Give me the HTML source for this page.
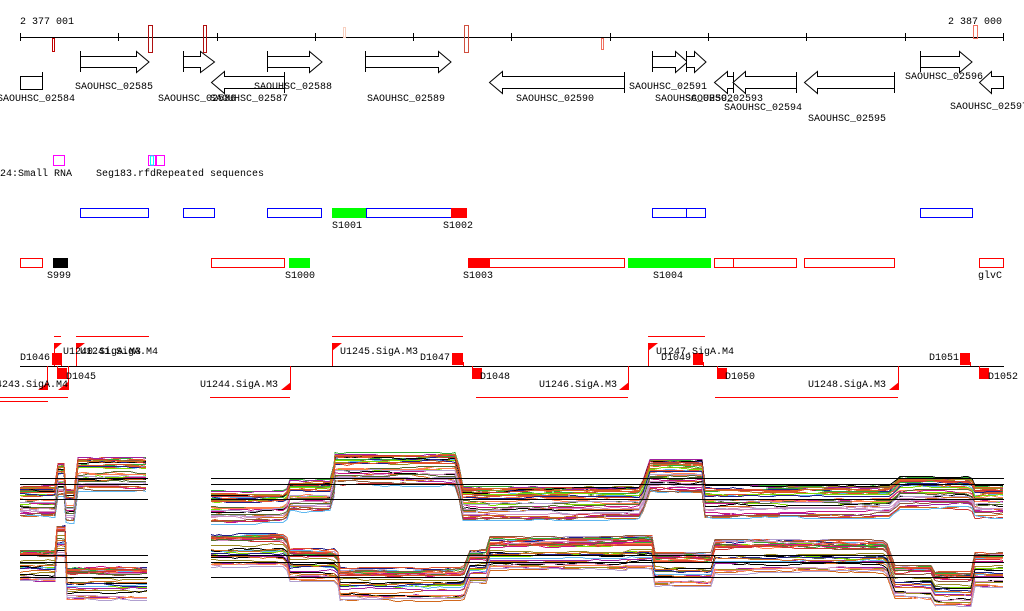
<!DOCTYPE html>
<html><head><meta charset="utf-8"><style>
html,body{margin:0;padding:0;background:#fff;}
svg{display:block;}
text{font-family:"Liberation Mono","DejaVu Sans Mono",monospace;font-size:10px;fill:#000;}
</style></head><body>
<svg id="s" width="1024" height="611" viewBox="0 0 1024 611" xmlns="http://www.w3.org/2000/svg" shape-rendering="crispEdges">
<g fill="none" stroke="#000">
<line x1="20" y1="37.5" x2="1004" y2="37.5"/>
<path d="M20.5 33v8M118.5 33v8M217.5 33v8M315.5 33v8M413.5 33v8M511.5 33v8M610.5 33v8M708.5 33v8M806.5 33v8M905.5 33v8M1003.5 33v8"/>
</g>
<text x="20" y="24">2 377 001</text>
<text x="948" y="24">2 387 000</text>
<g fill="none">
<rect x="52.5" y="38.5" width="2" height="13" stroke="#c00000"/>
<rect x="148.5" y="25.5" width="4" height="27" stroke="#b01010"/>
<rect x="203.5" y="25.5" width="3" height="27" stroke="#b01010"/>
<rect x="343.5" y="27.5" width="2" height="10" stroke="#f8d0c0"/>
<rect x="464.5" y="25.5" width="4" height="27" stroke="#d05040"/>
<rect x="601.5" y="38.5" width="2" height="11" stroke="#f07060"/>
<rect x="973.5" y="25.5" width="4" height="13" stroke="#f07060"/>
</g>
<g fill="#fff" stroke="#000" shape-rendering="auto">
<rect x="20.5" y="76.5" width="22" height="13"/>
<path d="M42.5 72v18"/>
<path d="M80.5 51v21M80.5 56.5h56v-5l12.5 10.5-12.5 10.5v-5h-56"/>
<path d="M183.5 51v21M183.5 56.5h17v-5l14 10.5-14 10.5v-5h-17"/>
<path d="M284.5 72v21M284.5 76.5h-60v-5l-13 11 13 11v-5h60"/>
<path d="M267.5 51v21M267.5 56.5h42v-5l12.5 10.5-12.5 10.5v-5h-42"/>
<path d="M365.5 51v21M365.5 56.5h73v-5l12.5 10.5-12.5 10.5v-5h-73"/>
<path d="M624.5 72v21M624.5 76.5h-122v-5l-13 11 13 11v-5h122"/>
<path d="M652.5 51v21M652.5 56.5h23v-5l12 10.5-12 10.5v-5h-23"/>
<path d="M686.5 51v21M686.5 56.5h8v-5l11.5 10.5-11.5 10.5v-5h-8"/>
<path d="M733.5 72v21M733.5 76.5h-6v-5l-13 11 13 11v-5h6"/>
<path d="M796.5 72v21M796.5 76.5h-51v-5l-12.5 11 12.5 11v-5h51"/>
<path d="M894.5 72v21M894.5 76.5h-77v-5l-13 11 13 11v-5h77"/>
<path d="M920.5 51v21M920.5 56.5h39v-5l12.5 10.5-12.5 10.5v-5h-39"/>
<path d="M1003.5 76.5h-12v-5l-12 11 12 11v-5h12z"/>
</g>
<text x="-3" y="101">SAOUHSC_02584</text>
<text x="75" y="89">SAOUHSC_02585</text>
<text x="158" y="101">SAOUHSC_02586</text>
<text x="210" y="101">SAOUHSC_02587</text>
<text x="254" y="89">SAOUHSC_02588</text>
<text x="367" y="101">SAOUHSC_02589</text>
<text x="516" y="101">SAOUHSC_02590</text>
<text x="629" y="89">SAOUHSC_02591</text>
<text x="655" y="101">SAOUHSC_02592</text>
<text x="685" y="101">SAOUHSC_02593</text>
<text x="724" y="110">SAOUHSC_02594</text>
<text x="808" y="121">SAOUHSC_02595</text>
<text x="905" y="79">SAOUHSC_02596</text>
<text x="950" y="109">SAOUHSC_02597</text>
<g fill="none">
<rect x="53.5" y="155.5" width="11" height="10" stroke="#f0f"/>
<rect x="148.5" y="155.5" width="16" height="10" stroke="#f0f"/>
<rect x="150.5" y="156" width="3" height="9" stroke="#0ff"/>
<rect x="155" y="156" width="2" height="9" fill="#f0f" stroke="none"/>
</g>
<text x="0" y="176">24:Small RNA</text>
<text x="96" y="176">Seg183.rfdRepeated sequences</text>
<g stroke="#00f" fill="none">
<rect x="80.5" y="208.5" width="68" height="9"/>
<rect x="183.5" y="208.5" width="31" height="9"/>
<rect x="267.5" y="208.5" width="54" height="9"/>
<rect x="366.5" y="208.5" width="85" height="9"/>
<rect x="652.5" y="208.5" width="53" height="9"/>
<line x1="686.5" y1="208" x2="686.5" y2="218"/>
<rect x="920.5" y="208.5" width="52" height="9"/>
</g>
<rect x="332" y="208" width="34" height="10" fill="#0f0"/>
<rect x="451" y="208" width="16" height="10" fill="#f00"/>
<text x="332" y="228">S1001</text><text x="443" y="228">S1002</text>
<g stroke="#f00" fill="none">
<rect x="20.5" y="258.5" width="22" height="9"/>
<rect x="211.5" y="258.5" width="73" height="9"/>
<rect x="489.5" y="258.5" width="135" height="9"/>
<rect x="714.5" y="258.5" width="82" height="9"/>
<line x1="733.5" y1="258" x2="733.5" y2="268"/>
<rect x="804.5" y="258.5" width="90" height="9"/>
<rect x="979.5" y="258.5" width="24" height="9"/>
</g>
<rect x="53" y="258" width="15" height="10" fill="#000"/>
<rect x="289" y="258" width="21" height="10" fill="#0f0"/>
<rect x="468" y="258" width="21" height="10" fill="#f00"/>
<rect x="628" y="258" width="83" height="10" fill="#0f0"/>
<text x="47" y="278">S999</text><text x="285" y="278">S1000</text><text x="463" y="278">S1003</text><text x="653" y="278">S1004</text><text x="978" y="278">glvC</text>
<line x1="20" y1="366.5" x2="1004" y2="366.5" stroke="#000"/>
<g stroke="#f00" fill="none">
<path d="M54 336.5h7M76 336.5h73M332 336.5h131M648 336.5h57M0 397.5h68M210 397.5h80M476 397.5h152M715 397.5h183M0 401.5h48"/>
<path d="M54.5 366v-23M76.5 366v-23M332.5 366v-23M648.5 366v-23M290.5 366v24M628.5 366v24M898.5 366v24M47.5 366v24M68.5 366v24"/>
<path d="M61.5 366v-4M463.5 366v-4M703.5 366v-4M970.5 366v-4M57.5 366v4M472.5 366v4M717.5 366v4M979.5 366v4"/>
</g>
<g fill="#f00" shape-rendering="auto">
<path d="M54 343h8l-8 7z"/><path d="M76 343h9l-9 7z"/><path d="M332 343h10l-10 8z"/><path d="M648 343h10l-10 8z"/>
<path d="M291 390h-10l10-8z"/><path d="M629 390h-10l10-8z"/><path d="M899 390h-10l10-8z"/><path d="M48 390h-10l10-8z"/><path d="M68 390h-10l10-8z"/>
</g>
<g fill="#f00">
<rect x="52" y="353" width="10" height="12"/><rect x="452" y="353" width="11" height="12"/><rect x="693" y="353" width="10" height="12"/><rect x="960" y="353" width="10" height="12"/>
<rect x="57" y="368" width="10" height="11"/><rect x="472" y="368" width="10" height="11"/><rect x="717" y="368" width="10" height="11"/><rect x="979" y="368" width="10" height="11"/>
</g>
<text x="63" y="354">U1240.SigA.M3</text><text x="80" y="354">U1241.SigA.M4</text>
<text x="340" y="354">U1245.SigA.M3</text><text x="656" y="354">U1247.SigA.M4</text>
<text x="20" y="360">D1046</text><text x="420" y="360">D1047</text><text x="661" y="360">D1049</text><text x="929" y="360">D1051</text>
<text x="66" y="379">D1045</text><text x="480" y="379">D1048</text><text x="725" y="379">D1050</text><text x="988" y="379">D1052</text>
<text x="200" y="387">U1244.SigA.M3</text><text x="539" y="387">U1246.SigA.M3</text><text x="808" y="387">U1248.SigA.M3</text>
<text x="-4" y="387">4243.SigA.M4</text>
<g id="plots" shape-rendering="crispEdges"></g>
<g stroke="#000" fill="none">
<path d="M20 478.5h128M211 478.5h793M20 484.5h128M211 484.5h793M20 499.5h128M211 499.5h793"/>
<path d="M20 555.5h128M211 555.5h793M20 562.5h128M211 562.5h793M20 577.5h128M211 577.5h793"/>
</g>
</svg>
<script>
(function(){
var seed=11;function r(){seed=(seed*16807)%2147483647;return seed/2147483647;}
var cols=["#e0502a","#d2691e","#33aa33","#7fdc00","#a020a0","#c71585","#9a8a20","#60b8f0","#8b5a3c","#000","#d090c0","#ff7f50","#556b2f","#b0a0d0","#20208a","#cc3333"];
var top=[[20,497],[55,497],[58,476],[64,476],[66,502],[78,470],[148,470],null,[211,503],[290,492],[335,465],[463,499],[650,472],[705,497],[900,488],[975,497],[1004,497]];
var bot=[[20,560],[55,560],[57,535],[65,535],[67,578],[148,578],null,[211,545],[290,560],[340,579],[470,562],[490,549],[628,548],[655,565],[715,552],[895,577],[935,584],[975,565],[1004,565]];
var g=document.getElementById('plots'),ns="http://www.w3.org/2000/svg";
function draw(prof){
 for(var k=0;k<34;k++){
  var u=r(); var off=-10+Math.pow(u,1.6)*30;
  var d="",started=false, w=0;
  for(var i=0;i<prof.length-1;i++){
   var a=prof[i],b=prof[i+1];
   if(!a||!b){started=false;continue;}
   for(var x=a[0];x<=b[0];x+=4){
    var t=(x-a[0])/Math.max(1,(b[0]-a[0]));
    var base=(b[0]-a[0]<12)?a[1]+(b[1]-a[1])*t:(t>0.95?a[1]+(b[1]-a[1])*(t-0.95)*20:a[1]);
    if(r()<0.25){w+=(r()<0.5?-1:1);if(w>3)w=3;if(w<-3)w=-3;}
    var y=Math.round(base+off+w)+0.5;
    d+=(started?"L":"M")+x+" "+y;started=true;
   }
  }
  var p=document.createElementNS(ns,"path");
  p.setAttribute("d",d);p.setAttribute("fill","none");
  p.setAttribute("stroke",cols[k%cols.length]);p.setAttribute("stroke-width","1");
  g.appendChild(p);
 }
}
draw(top);draw(bot);
})();
</script>
</body></html>
